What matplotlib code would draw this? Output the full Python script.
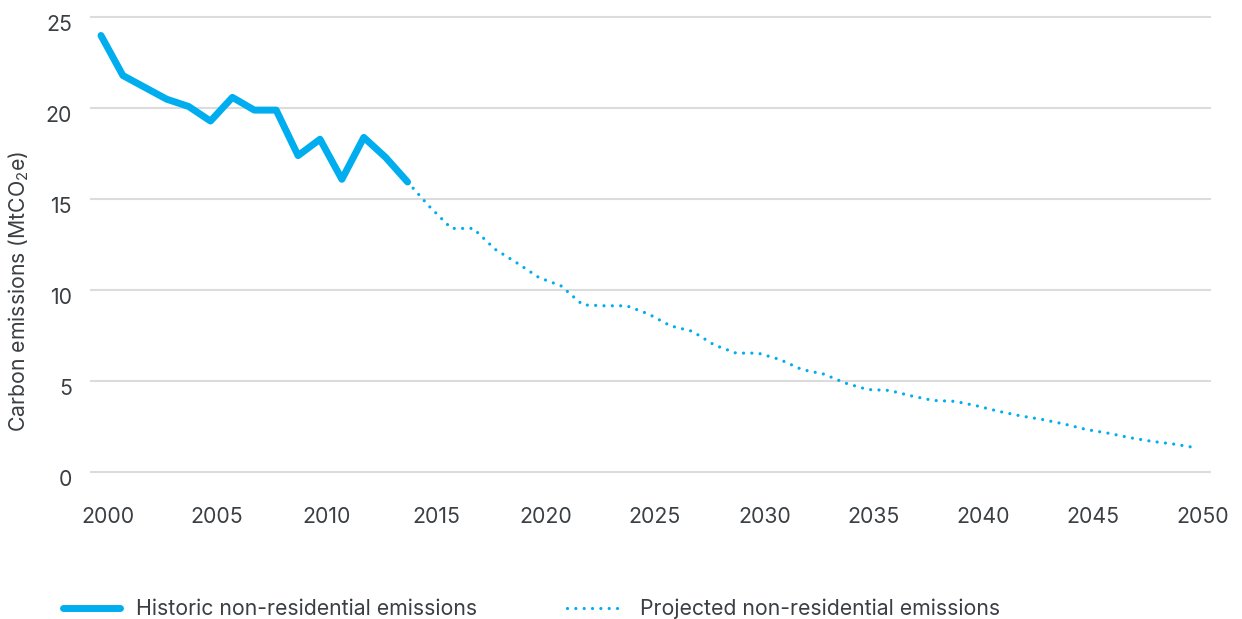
import matplotlib
matplotlib.use("Agg")
import matplotlib.pyplot as plt
from matplotlib.lines import Line2D
from matplotlib.transforms import ScaledTranslation

hist_years = list(range(2000, 2015))
hist_values = [24.0, 21.8, 21.15, 20.5, 20.1, 19.3, 20.6, 19.9, 19.9, 17.4,
               18.3, 16.1, 18.4, 17.3, 15.95]

proj_years = list(range(2014, 2051))
proj_values = [15.95, 14.6, 13.4, 13.4, 12.25, 11.5, 10.7, 10.25, 9.2, 9.15,
               9.15, 8.7, 8.05, 7.75, 7.0, 6.55, 6.55, 6.2, 5.65, 5.4,
               4.9, 4.55, 4.5, 4.2, 3.95, 3.9, 3.65, 3.35, 3.1, 2.9,
               2.65, 2.35, 2.15, 1.9, 1.7, 1.55, 1.35]

x_ticks = list(range(2000, 2051, 5))
y_ticks = [0, 5, 10, 15, 20, 25]
legend_labels = ["Historic non-residential emissions",
                 "Projected non-residential emissions"]
y_label = "Carbon emissions (MtCO$_2$e)"

BLUE = "#00AEEF"
TEXT = "#3a3f44"
GRID = "#dcdcdc"
FS = 15.3

plt.rcParams['font.family'] = ['Inter', 'DejaVu Sans']
plt.rcParams['mathtext.fontset'] = 'custom'
plt.rcParams['mathtext.rm'] = 'Inter'
plt.rcParams['mathtext.it'] = 'Inter'

fig = plt.figure(figsize=(12.42, 6.19), dpi=100)
ax = fig.add_axes([0.0725, 0.2281, 0.9028, 0.7528])

ax.plot(hist_years, hist_values, color=BLUE, lw=5, solid_capstyle='round',
        solid_joinstyle='round', zorder=3)
ax.plot(proj_years, proj_values, color=BLUE, lw=2.3,
        linestyle=(0, (0.01, 2.6)), dash_capstyle='round', zorder=3)

ax.set_xlim(1999.5, 2050.7)
ax.set_ylim(-0.3, 25.3)
ax.set_xticks(x_ticks)
ax.set_yticks(y_ticks)
ax.yaxis.grid(True, color=GRID, lw=1.5)
ax.set_axisbelow(True)
for s in ax.spines.values():
    s.set_visible(False)
ax.tick_params(axis='both', length=0, labelsize=FS, labelcolor=TEXT)
ax.tick_params(axis='x', pad=21)
ax.tick_params(axis='y', pad=13)

for lab in ax.get_xticklabels():
    lab.set_transform(lab.get_transform() + ScaledTranslation(0.065, 0, fig.dpi_scale_trans))
for lab in ax.get_yticklabels():
    lab.set_transform(lab.get_transform() + ScaledTranslation(0, -0.06, fig.dpi_scale_trans))

fig.text(19 / 1242, 1 - 291 / 619, y_label, rotation=90, ha='center', va='center',
         fontsize=FS, color=TEXT)

handles = [Line2D([], [], color=BLUE, lw=5, solid_capstyle='round'),
           Line2D([], [], color=BLUE, lw=2.3, linestyle=(0, (0.01, 2.6)),
                  dash_capstyle='round')]
fig.legend(handles, legend_labels, loc='center left',
           bbox_to_anchor=(63 / 1242, 1 - 609 / 619), ncol=2, frameon=False,
           fontsize=FS, labelcolor=TEXT, handlelength=2.7, handletextpad=0.75,
           columnspacing=4.2, borderpad=0, borderaxespad=0)

fig.savefig("out.png", dpi=100)
